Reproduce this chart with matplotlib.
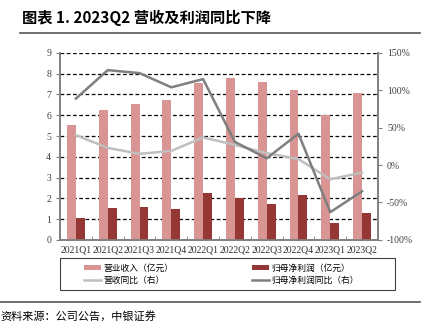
import numpy as np
import matplotlib.pyplot as plt
from matplotlib.patches import Rectangle
from matplotlib.ticker import FuncFormatter

plt.rcParams['font.family'] = ['Liberation Serif', 'Noto Sans CJK SC']

quarters = ['2021Q1', '2021Q2', '2021Q3', '2021Q4', '2022Q1', '2022Q2',
            '2022Q3', '2022Q4', '2023Q1', '2023Q2']
revenue = [5.55, 6.25, 6.55, 6.75, 7.55, 7.8, 7.6, 7.2, 6.0, 7.05]
profit = [1.05, 1.55, 1.6, 1.5, 2.28, 2.0, 1.72, 2.15, 0.82, 1.3]
revenue_yoy = [40, 23, 15, 19, 37, 27, 16, 8, -19, -10]
profit_yoy = [89, 127, 123, 104, 115, 31, 9, 42, -63, -35]

fig = plt.figure(figsize=(4.29, 3.35), dpi=100)
ax = fig.add_axes([0.14, 0.284, 0.741, 0.558])
ax2 = ax.twinx()

x = np.arange(len(quarters))
w = 0.28
ax.bar(x - w / 2, revenue, w, color='#d99594', label='营业收入（亿元）', zorder=3)
ax.bar(x + w / 2, profit, w, color='#953735', label='归母净利润（亿元）', zorder=3)
ax.set_ylim(0, 9)
ax.set_yticks(range(10))
ax.set_xlim(-0.5, len(quarters) - 0.5)
ax.yaxis.grid(True, linestyle=(0, (3, 2)), color='black', linewidth=0.9, zorder=0)
ax.set_axisbelow(True)

ax2.plot(x, revenue_yoy, color='#bfbfbf', lw=1.8, label='营收同比（右）')
ax2.plot(x, profit_yoy, color='#7f7f7f', lw=1.8, label='归母净利润同比（右）')
ax2.set_ylim(-100, 150)
ax2.set_yticks(range(-100, 151, 50))
ax2.yaxis.set_major_formatter(FuncFormatter(lambda v, p: f'{int(v)}%'))

ax.set_xticks(x)
ax.set_xticklabels(quarters)
ax.set_xticks(np.arange(-0.5, len(quarters), 1), minor=True)
ax.tick_params(axis='x', which='major', length=0, labelsize=7, pad=4)
ax.tick_params(axis='x', which='minor', length=3, color='#808080', direction='in')
ax.tick_params(axis='y', length=3, color='#808080', labelsize=7, colors='#404040')
ax2.tick_params(axis='y', length=3, color='#808080', labelsize=7, colors='#404040')
ax.tick_params(axis='x', colors='#303030')
for a in (ax, ax2):
    a.spines['top'].set_visible(False)
    for s in ('left', 'right', 'bottom'):
        a.spines[s].set_color('#808080')
        a.spines[s].set_linewidth(1.2)

h1, l1 = ax.get_legend_handles_labels()
h2, l2 = ax2.get_legend_handles_labels()
handles = [h1[0], h2[0], h1[1], h2[1]]
labels = [l1[0], l2[0], l1[1], l2[1]]
fig.add_artist(Rectangle((0.14, 0.134), 0.781, 0.096, transform=fig.transFigure,
                         fill=False, edgecolor='#404040', lw=0.8))
leg = fig.legend(handles, labels, ncol=2, loc='center',
                 bbox_to_anchor=(0.517, 0.182),
                 prop={'family': 'Noto Sans CJK SC', 'size': 6.3}, frameon=False,
                 handlelength=1.9, handleheight=0.6, handletextpad=0.3,
                 columnspacing=9, labelspacing=0.35, borderpad=0)

fig.text(0.051, 0.946, '图表 1. 2023Q2 营收及利润同比下降', fontsize=11, fontweight='bold',
         family=['Noto Sans CJK SC'], va='center')
fig.add_artist(plt.Line2D([0.047, 0.98], [0.901, 0.901], color='#555555', lw=1.2))
fig.add_artist(plt.Line2D([0.0, 0.98], [0.098, 0.098], color='#555555', lw=1.2))
fig.text(0.0, 0.057, '资料来源：公司公告，中银证券', fontsize=8, style='italic',
         family=['Noto Sans CJK SC'], va='center')

fig.savefig('out.png', dpi=100)
